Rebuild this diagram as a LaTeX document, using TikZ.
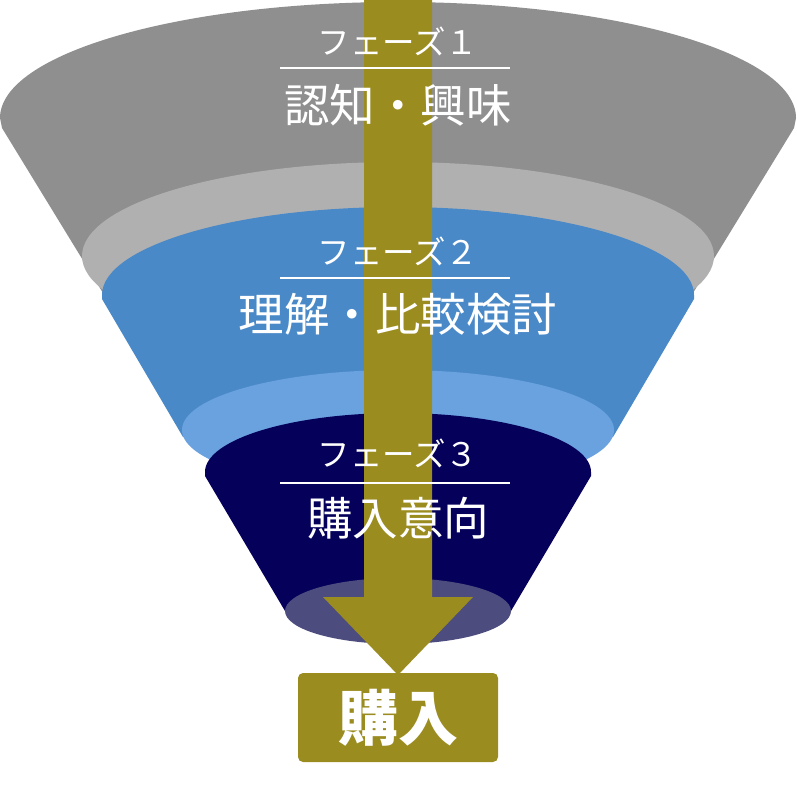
\documentclass[tikz,border=0pt]{standalone}
\usepackage{fontspec}
\newfontfamily\jp{Noto Sans CJK JP}
\definecolor{grayA}{HTML}{8F8F8F}
\definecolor{grayB}{HTML}{B0B0B0}
\definecolor{blueA}{HTML}{4A89C8}
\definecolor{blueB}{HTML}{6AA2DF}
\definecolor{navyA}{HTML}{05005A}
\definecolor{navyB}{HTML}{4D4C7E}
\definecolor{oliveA}{HTML}{9B8C20}
\tikzset{
  phase/.style={text=white, inner sep=0pt, font=\jp\fontsize{32.5}{32.5}\selectfont},
  stage/.style={text=white, inner sep=0pt, font=\jp\fontsize{45.5}{45.5}\selectfont},
  rule/.style={draw=white, line width=2pt},
  buybox/.style={fill=oliveA, rounded corners=5pt, minimum width=200pt, minimum height=89pt, inner sep=0pt, text=white, font=\jp\bfseries\fontsize{60}{60}\selectfont}
}
\begin{document}
\begin{tikzpicture}[x=1pt,y=-1pt]
\useasboundingbox (0,0) rectangle (796,810);
% layer 1
\fill[grayA] (0,118) arc[start angle=180,end angle=0,x radius=398pt,y radius=116pt]
  -- (794,128) -- (693,293) -- (103,293) -- (2,128) -- cycle;
\fill[grayB] (398,256) ellipse[x radius=316pt,y radius=94pt];
% layer 2
\fill[blueA] (102,295) arc[start angle=180,end angle=0,x radius=296pt,y radius=88pt]
  -- (694,299) -- (613,437) -- (183,437) -- (102,299) -- cycle;
\fill[blueB] (398,430) ellipse[x radius=216pt,y radius=60pt];
% layer 3
\fill[navyA] (205,472) arc[start angle=180,end angle=0,x radius=193pt,y radius=59pt]
  -- (591,476) -- (511,611) -- (285,611) -- (205,476) -- cycle;
\fill[navyB] (398,611) ellipse[x radius=113pt,y radius=33pt];
% goal box and arrow
\node[buybox] (buy) at (398,717.5) {購入};
\coordinate (shaftTop) at (398,0);
\coordinate (tip) at (398,675);
\fill[oliveA] ([xshift=-34pt]shaftTop) -- ([xshift=34pt]shaftTop)
  -- (432,597) -- (473,597) -- (tip) -- (323,597) -- (364,597) -- cycle;
% texts
\node[phase] (p1) at (398,41) {フェーズ１};
\draw[rule] (280,68) coordinate (r1a) -- (510,68) coordinate (r1b);
\node[stage] (s1) at (398,105) {認知・興味};
\node[phase] (p2) at (398,251) {フェーズ２};
\draw[rule] (280,278) coordinate (r2a) -- (510,278) coordinate (r2b);
\node[stage] (s2) at (398,314) {理解・比較検討};
\node[phase] (p3) at (398,453) {フェーズ３};
\draw[rule] (280,483) coordinate (r3a) -- (510,483) coordinate (r3b);
\node[stage] (s3) at (398,518) {購入意向};
\end{tikzpicture}
\end{document}
